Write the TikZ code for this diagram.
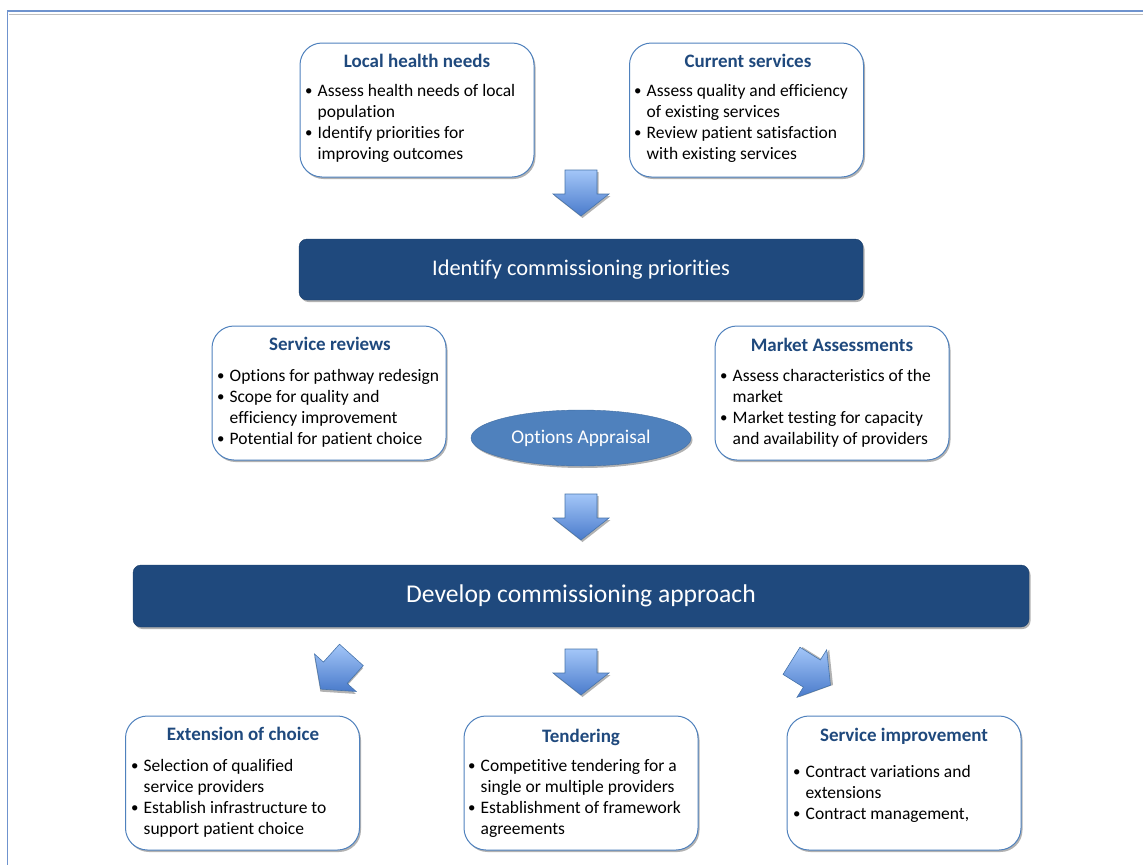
\documentclass[tikz,border=0pt]{standalone}
\usepackage{fontspec}
\setmainfont{Carlito}[Ligatures={NoCommon}]
\usetikzlibrary{shapes.geometric,shadows}
\definecolor{navy}{HTML}{1F497D}
\definecolor{accent}{HTML}{4F81BD}
\definecolor{arrowlight}{HTML}{A3C6F8}
\definecolor{arrowdark}{HTML}{4A7BCB}
\definecolor{framecol}{HTML}{6F93CE}
\newcommand{\bl}{\makebox[12.5pt][l]{\raisebox{0.5pt}{\scalebox{0.85}{\textbullet}}}}
\newcommand{\ind}{\hspace*{12.5pt}}
\newcommand{\lines}[1]{\parbox[t]{228pt}{\raggedright #1}}

\tikzset{
  infobox/.style={draw=accent, line width=1pt, fill=white, rounded corners=22pt,
    minimum width=234pt, minimum height=134pt, inner sep=0pt,
    drop shadow={shadow xshift=1.5pt, shadow yshift=-2pt, fill=black!30, opacity=1}},
  boxtitle/.style={font=\fontsize{19}{22}\selectfont\bfseries, text=navy, inner sep=0pt},
  boxbody/.style={anchor=base west, inner sep=0pt, font=\fontsize{17.5}{21}\selectfont},
  banner/.style={draw=navy!85!black, fill=navy, rounded corners=8pt, text=white, inner sep=0pt,
    drop shadow={shadow xshift=1.5pt, shadow yshift=-2pt, fill=black!30, opacity=1}},
  appraisal/.style={ellipse, fill=accent, draw=accent!85!black, text=white, inner sep=0pt,
    minimum width=220pt, minimum height=56pt, font=\fontsize{19.4}{22}\selectfont,
    drop shadow={shadow xshift=1.5pt, shadow yshift=-2pt, fill=black!30, opacity=1}},
  blockarrow/.pic={
    \fill[black!30] (-14.5,-21) -- (17.5,-21) -- (17.5,3) -- (29.5,3) -- (1.5,25) -- (-26.5,3) -- (-14.5,3) -- cycle;
    \shade[top color=arrowlight, bottom color=arrowdark, draw=accent!90!black, line width=0.6pt]
      (-16,-23) -- (16,-23) -- (16,1) -- (28,1) -- (0,23) -- (-28,1) -- (-16,1) -- cycle;
  }
}

\begin{document}
\begin{tikzpicture}[x=1pt,y=-1pt]
\useasboundingbox (0,0) rectangle (1143,865);

% page frame
\draw[black!25, line width=1.2pt] (9,14.2) -- (1143,14.2);
\draw[framecol, line width=1.8pt] (1143,11.3) -- (7.5,11.3) -- (7.5,865);

% top row: inputs
\node[infobox] (lhn) at (417,110) {};
\node[boxtitle] (lhnT) at (417,61) {Local health needs};
\node[boxbody] (lhnB) at (305,96) {\lines{\bl Assess health needs of local\\ \ind population\\ \bl Identify priorities for\\ \ind improving outcomes}};

\node[infobox] (cur) at (746.5,110) {};
\node[boxtitle] (curT) at (748,61) {Current services};
\node[boxbody] (curB) at (634,96) {\lines{\bl Assess quality and efficiency\\ \ind of existing services\\ \bl Review patient satisfaction\\ \ind with existing services}};

\pic at (581,193) {blockarrow};

% priorities banner
\node[banner, minimum width=564pt, minimum height=61pt, font=\fontsize{22.4}{26}\selectfont] (prio) at (581,269.5) {Identify commissioning priorities};

% middle row: reviews and assessments
\node[infobox] (rev) at (329,393) {};
\node[boxtitle] (revT) at (330,344) {Service reviews};
\node[boxbody] (revB) at (217,381) {\lines{\bl Options for pathway redesign\\ \bl Scope for quality and\\ \ind efficiency improvement\\ \bl Potential for patient choice}};

\node[infobox] (mkt) at (832,393) {};
\node[boxtitle] (mktT) at (832,345) {Market Assessments};
\node[boxbody] (mktB) at (720,381) {\lines{\bl Assess characteristics of the\\ \ind market\\ \bl Market testing for capacity\\ \ind and availability of providers}};

\node[appraisal] (opt) at (581,438) {Options Appraisal};

\pic at (581,517) {blockarrow};

% approach banner
\node[banner, minimum width=896pt, minimum height=62pt, font=\fontsize{25.6}{30}\selectfont] (appr) at (581,596) {Develop commissioning approach};

\pic[rotate=-42] at (336,672) {blockarrow};
\pic at (581,672) {blockarrow};
\pic[rotate=58] at (811,673) {blockarrow};

% bottom row: routes
\node[infobox] (ext) at (242.5,783) {};
\node[boxtitle] (extT) at (243,734) {Extension of choice};
\node[boxbody] (extB) at (131,771) {\lines{\bl Selection of qualified\\ \ind service providers\\ \bl Establish infrastructure to\\ \ind support patient choice}};

\node[infobox] (tnd) at (581,783) {};
\node[boxtitle] (tndT) at (581,737) {Tendering};
\node[boxbody] (tndB) at (468,771) {\lines{\bl Competitive tendering for a\\ \ind single or multiple providers\\ \bl Establishment of framework\\ \ind agreements}};

\node[infobox] (imp) at (904,783) {};
\node[boxtitle] (impT) at (904,736) {Service improvement};
\node[boxbody] (impB) at (793,777) {\lines{\bl Contract variations and\\ \ind extensions\\ \bl Contract management,}};
\end{tikzpicture}
\end{document}
